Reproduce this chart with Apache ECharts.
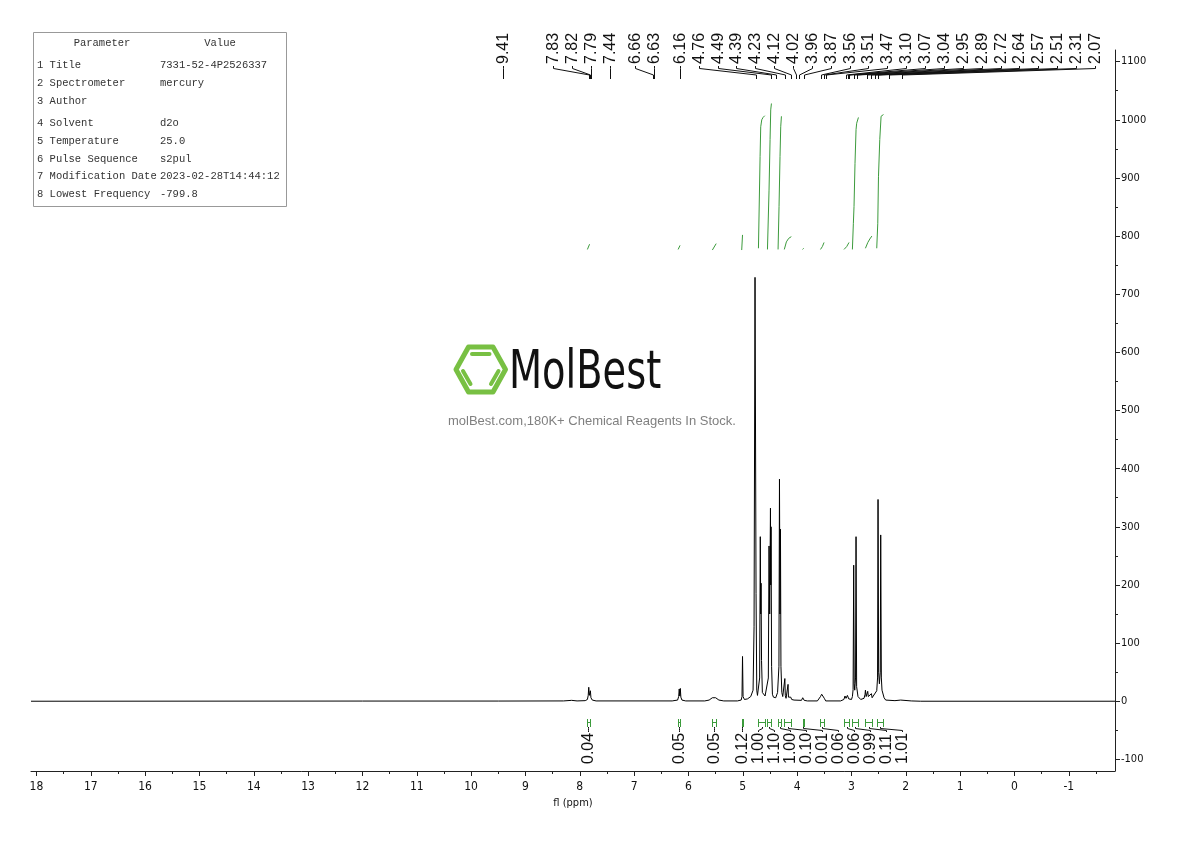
<!DOCTYPE html>
<html><head><meta charset="utf-8">
<script src="https://cdn.jsdelivr.net/npm/echarts@6/dist/echarts.min.js"></script>
<style>html,body{margin:0;padding:0;background:#fff}#c{width:1190px;height:841px}</style>
</head><body><div id="c"></div>
<script>
// ---------- data ----------
const xTicks = [-1,0,1,2,3,4,5,6,7,8,9,10,11,12,13,14,15,16,17,18];
const xMinorTicks = [-1.5,-0.5,0.5,1.5,2.5,3.5,4.5,5.5,6.5,7.5,8.5,9.5,10.5,11.5,12.5,13.5,14.5,15.5,16.5,17.5];
const yTicks = [-100,0,100,200,300,400,500,600,700,800,900,1000,1100];
const yMinorTicks = [-50,50,150,250,350,450,550,650,750,850,950,1050];

// spectrum trace [ppm, intensity]
const spectrum = [
[18.1,0],[12.0,0.3],[9.5,0.3],[8.3,0.5],[8.15,1.5],[8.05,0.5],
[7.9,1],[7.86,3],[7.845,10],[7.835,24],[7.825,10],[7.815,8],[7.805,18],[7.795,6],[7.77,2],[7.7,0.5],
[6.3,0.5],[6.2,2],[6.18,8],[6.17,21],[6.16,9],[6.15,22],[6.14,7],[6.12,2],[6.05,0.5],
[5.7,0.5],[5.62,2],[5.56,6],[5.53,8],[5.5,6],[5.44,2],[5.35,0.5],
[5.10,0.5],[5.03,2],[5.015,8],[5.005,77],[4.995,8],[4.97,3],
[4.914,4],[4.854,8],[4.811,19],[4.793,128],[4.775,729],[4.756,185],[4.743,19],[4.730,10],[4.715,12],
[4.69,40],[4.678,283],[4.670,150],[4.664,203],[4.655,70],[4.64,15],[4.627,13],[4.609,16],[4.59,9],[4.578,7],
[4.555,10],[4.53,40],[4.517,267],[4.505,150],[4.491,332],[4.486,200],[4.480,300],[4.47,60],[4.455,12],[4.436,7],
[4.394,6],[4.36,15],[4.335,60],[4.325,382],[4.316,150],[4.307,296],[4.298,60],[4.282,15],[4.265,8],
[4.235,8],[4.226,39],[4.218,10],[4.204,5],[4.175,8],[4.167,29],[4.160,7],[4.149,4],[4.118,7],[4.10,3],[4.057,2],
[3.92,1.5],[3.897,6],[3.87,1.5],[3.811,0.5],[3.627,0.5],[3.57,8],[3.548,12],[3.53,11],[3.50,5],[3.474,0.5],
[3.20,0.5],[3.14,3],[3.119,9],[3.10,5],[3.075,10],[3.05,4],[3.0,3],
[2.983,8],[2.97,20],[2.959,234],[2.950,30],[2.940,19],[2.925,40],[2.916,283],[2.905,25],[2.88,8],[2.83,3],
[2.769,5],[2.750,12],[2.743,19],[2.73,8],[2.715,9],[2.701,17],[2.69,8],[2.67,8],[2.633,13],[2.62,6],[2.585,5],
[2.535,18],[2.52,40],[2.511,347],[2.50,50],[2.486,30],[2.47,50],[2.462,286],[2.45,40],[2.438,19],[2.40,6],[2.37,2],
[2.2,1],[2.094,2],[1.9,0.5],[1.726,0],[-1.85,0]
];

// picked peaks (ppm)
const peakShifts = [9.41,7.83,7.82,7.79,7.44,6.66,6.63,6.16,4.76,4.49,4.39,4.23,4.12,4.02,3.96,3.87,3.56,3.51,3.47,3.10,3.07,3.04,2.95,2.89,2.72,2.64,2.57,2.51,2.31,2.07];

// integral curves [ppm, curve value]
const integralCurves = [
 [[7.86,777],[7.84,780],[7.82,786]],
 [[6.19,777],[6.155,784]],
 [[5.56,776],[5.49,787]],
 [[5.02,776],[5.005,802]],
 [[4.712,779],[4.682,937],[4.670,988],[4.651,1000],[4.627,1004],[4.596,1007]],
 [[4.546,777],[4.517,879],[4.498,966],[4.486,1017],[4.473,1028]],
 [[4.351,777],[4.333,851],[4.315,937],[4.302,988],[4.289,1006]],
 [[4.236,777],[4.198,790],[4.156,796],[4.107,799]],
 [[3.90,777],[3.88,779]],
 [[3.57,777],[3.535,782],[3.505,789]],
 [[3.137,777],[3.087,782],[3.045,789]],
 [[2.983,777],[2.965,822],[2.953,851],[2.935,925],[2.916,983],[2.904,994],[2.872,1004]],
 [[2.743,779],[2.699,789],[2.662,795],[2.625,800]],
 [[2.535,779],[2.516,822],[2.503,902],[2.479,966],[2.455,1006],[2.411,1009]]
];
const integralValues = ['0.04','0.05','0.05','0.12','1.00','1.10','1.00','0.10','0.01','0.06','0.06','0.99','0.11','1.01'];

const tableParams = ['1 Title','2 Spectrometer','3 Author','4 Solvent','5 Temperature','6 Pulse Sequence','7 Modification Date','8 Lowest Frequency'];
const tableValues = ['7331-52-4P2526337','mercury','','d2o','25.0','s2pul','2023-02-28T14:44:12','-799.8'];

// ---------- chart ----------
const NARROW = '"Liberation Sans Narrow","DejaVu Sans Condensed",sans-serif';
const GREEN = '#3c9b3c';
const chart = echarts.init(document.getElementById('c'), null, {renderer:'canvas'});

const series = [{
  type:'line', data: spectrum, showSymbol:false, symbol:'none', silent:true,
  lineStyle:{color:'#000', width:1}, z:3
}];
integralCurves.forEach(c => series.push({
  type:'line', data:c, showSymbol:false, symbol:'none', silent:true,
  lineStyle:{color:GREEN, width:1}, z:3
}));

chart.setOption({
  animation:false,
  backgroundColor:'#fff',
  grid:{left:31, right:75, top:50, bottom:70},
  xAxis:[{
    type:'value', min:-1.85, max:18.1, inverse:true, position:'bottom',
    axisLine:{onZero:false, lineStyle:{color:'#222', width:1}},
    axisTick:{customValues:xTicks, length:5, lineStyle:{color:'#222'}},
    axisLabel:{customValues:xTicks, margin:10, color:'#111', fontFamily:NARROW, fontSize:12,
      formatter: v => String(v)},
    splitLine:{show:false},
    name:'fl (ppm)', nameLocation:'middle', nameGap:25,
    nameTextStyle:{fontFamily:NARROW, fontSize:11, color:'#111'}
  },{
    type:'value', min:-1.85, max:18.1, inverse:true, position:'bottom',
    axisLine:{show:false, onZero:false},
    axisTick:{customValues:xMinorTicks, length:3, lineStyle:{color:'#222'}},
    axisLabel:{show:false}, splitLine:{show:false}
  }],
  yAxis:[{
    type:'value', min:-120, max:1120, position:'right',
    axisLine:{show:true, onZero:false, lineStyle:{color:'#222'}},
    axisTick:{show:true, customValues:yTicks, length:5, lineStyle:{color:'#222'}},
    axisLabel:{customValues:yTicks, margin:6, color:'#111', fontFamily:NARROW, fontSize:11,
      formatter: v => String(v)},
    splitLine:{show:false}
  },{
    type:'value', min:-120, max:1120, position:'right',
    axisLine:{show:false, onZero:false},
    axisTick:{show:true, customValues:yMinorTicks, length:3, lineStyle:{color:'#222'}},
    axisLabel:{show:false}, splitLine:{show:false}
  }],
  series: series
});

// ---------- annotations ----------
function xpx(ppm){ return chart.convertToPixel({xAxisIndex:0}, ppm); }
function layoutLabels(nats, gap){
  const pos = []; let cs = 0; let lb = -Infinity;
  for (let i=0;i<nats.length;i++){
    if (i===0 || nats[i] >= pos[i-1] + gap){
      if (i>0) lb = pos[i-1] + gap;
      cs = i; pos[i] = nats[i];
    } else {
      let start = nats[i] - (i-cs)*gap;
      if (start < lb) start = lb;
      for (let j=cs;j<=i;j++) pos[j] = start + (j-cs)*gap;
    }
  }
  return pos;
}
const g = [];
const LBL_FONT = '16px "Liberation Sans", Arial, sans-serif';

// peak labels
const pNat = peakShifts.map(xpx);
const pPos = layoutLabels(pNat, 18.87);
peakShifts.forEach((p,i) => {
  const lx = Math.round(pPos[i]) + 0.5, nx = Math.round(pNat[i]) + 0.5;
  g.push({type:'polyline', silent:true, shape:{points:[[lx,66],[lx,68.5],[nx,75],[nx,79]]},
    style:{stroke:'#111', lineWidth:1, fill:null}});
  g.push({type:'text', silent:true, x:lx, y:64, rotation:Math.PI/2,
    style:{text:p.toFixed(2), font:LBL_FONT, fill:'#111', align:'left', verticalAlign:'middle'}});
});

// integral marks and labels
const iNat = integralCurves.map(c => (xpx(c[0][0]) + xpx(c[c.length-1][0]))/2);
const iPos = layoutLabels(iNat, 16);
integralCurves.forEach((c,i) => {
  const xs = Math.round(xpx(c[0][0]))+0.5, xe = Math.round(xpx(c[c.length-1][0]))+0.5;
  g.push({type:'polyline', silent:true, shape:{points:[[xs,719],[xs,727]]}, style:{stroke:GREEN, lineWidth:1, fill:null}});
  g.push({type:'polyline', silent:true, shape:{points:[[xe,719],[xe,727]]}, style:{stroke:GREEN, lineWidth:1, fill:null}});
  g.push({type:'polyline', silent:true, shape:{points:[[xs,722.5],[xe,722.5]]}, style:{stroke:GREEN, lineWidth:1, fill:null}});
  const lx = Math.round(iPos[i])+0.5, nx = Math.round(iNat[i])+0.5;
  g.push({type:'polyline', silent:true, shape:{points:[[lx,732],[lx,730.5],[nx,728.5],[nx,727]]},
    style:{stroke:'#111', lineWidth:1, fill:null}});
  g.push({type:'text', silent:true, x:lx, y:764, rotation:Math.PI/2,
    style:{text:integralValues[i], font:LBL_FONT, fill:'#111', align:'left', verticalAlign:'middle'}});
});

// parameter table
const TFONT = '10.5px "Liberation Mono", "DejaVu Sans Mono", monospace';
g.push({type:'rect', silent:true, shape:{x:33.5, y:32.5, width:253, height:174},
  style:{fill:'#fff', stroke:'#999', lineWidth:1}, z:10});
g.push({type:'text', silent:true, x:102, y:43, z:11, style:{text:'Parameter', font:TFONT, fill:'#333', align:'center', verticalAlign:'middle'}});
g.push({type:'text', silent:true, x:220, y:43, z:11, style:{text:'Value', font:TFONT, fill:'#333', align:'center', verticalAlign:'middle'}});
const rowY = [65,83,101,123,141,159,176.5,194];
tableParams.forEach((t,i) => {
  g.push({type:'text', silent:true, x:37, y:rowY[i], z:11, style:{text:t, font:TFONT, fill:'#333', align:'left', verticalAlign:'middle'}});
  g.push({type:'text', silent:true, x:160, y:rowY[i], z:11, style:{text:tableValues[i], font:TFONT, fill:'#333', align:'left', verticalAlign:'middle'}});
});

// watermark logo
const LG = '#78c043';
g.push({type:'polygon', silent:true, shape:{points:[[456,369.5],[468.5,347],[493,347],[505.5,369.5],[493,392],[468.5,392]]},
  style:{fill:null, stroke:LG, lineWidth:5, lineJoin:'round'}});
g.push({type:'line', silent:true, shape:{x1:472,y1:354,x2:489.5,y2:354}, style:{stroke:LG, lineWidth:4, lineCap:'round'}});
g.push({type:'line', silent:true, shape:{x1:463,y1:371,x2:470.5,y2:384}, style:{stroke:LG, lineWidth:4, lineCap:'round'}});
g.push({type:'line', silent:true, shape:{x1:498.5,y1:371,x2:491,y2:384}, style:{stroke:LG, lineWidth:4, lineCap:'round'}});
g.push({type:'text', silent:true, x:509, y:374, scaleX:0.82, scaleY:1.02,
  style:{text:'MolBest', font:'52px "Liberation Sans Narrow", "DejaVu Sans Condensed", sans-serif', fill:'#111', align:'left', verticalAlign:'middle'}});
g.push({type:'text', silent:true, x:448, y:421, style:{text:'molBest.com,180K+ Chemical Reagents In Stock.', font:'13px "Liberation Sans", Arial, sans-serif', fill:'#808080', align:'left', verticalAlign:'middle'}});

chart.setOption({graphic:{elements:g}});
</script></body></html>
